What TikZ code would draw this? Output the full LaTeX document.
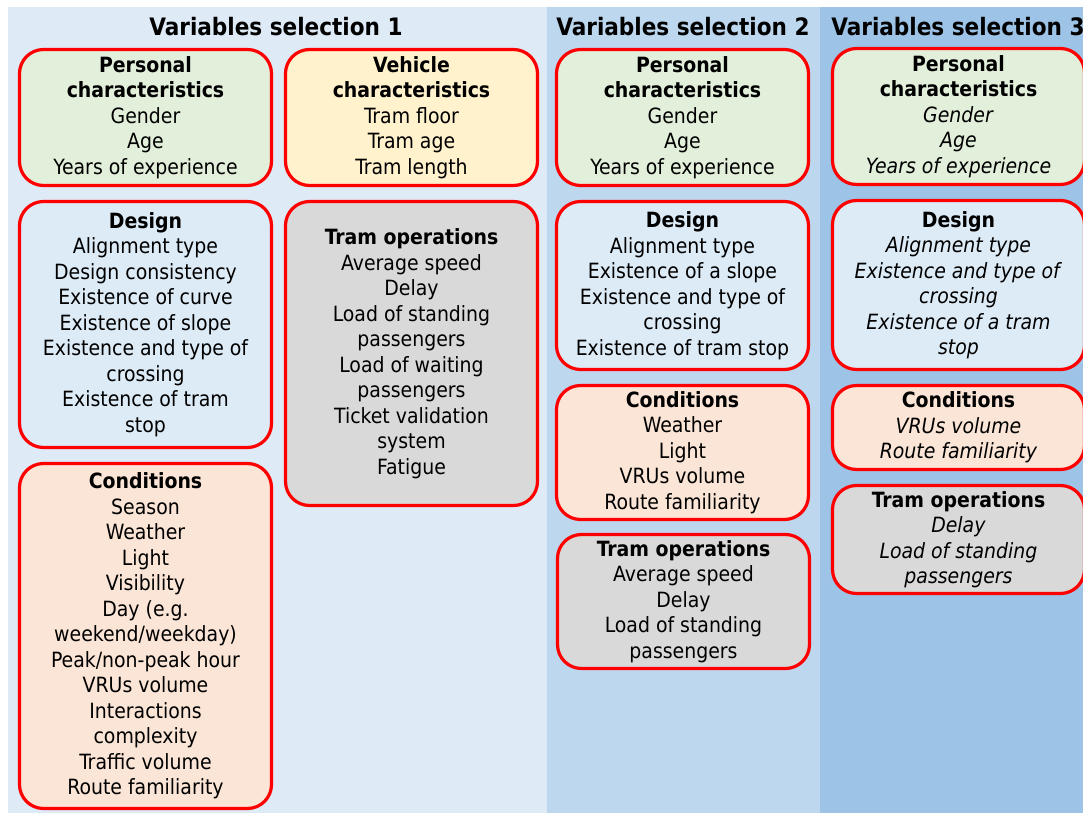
\documentclass[tikz,border=0pt]{standalone}
\usepackage{fontspec}
\setmainfont{DejaVu Sans Condensed}
\definecolor{colone}{HTML}{DEEAF6}
\definecolor{coltwo}{HTML}{BDD7EE}
\definecolor{colthree}{HTML}{9DC3E6}
\definecolor{persfill}{HTML}{E2EFDA}
\definecolor{vehfill}{HTML}{FFF2CC}
\definecolor{desfill}{HTML}{DDEBF7}
\definecolor{condfill}{HTML}{FBE5D6}
\definecolor{opsfill}{HTML}{D9D9D9}
\newcommand{\hd}[1]{\textbf{#1}}
\begin{document}
\begin{tikzpicture}[x=0.5pt,y=-0.5pt,
    varbox/.style={draw=red, line width=1.6pt, rounded corners=12pt, align=center,
      minimum width=126pt, inner sep=0pt, font=\fontsize{10.5}{12.75}\selectfont},
    coltitle/.style={font=\fontsize{12}{15}\selectfont\bfseries}]
    % Background
    \useasboundingbox (0,0) rectangle (1083,813);
    \clip (0,0) rectangle (1083,813);
    \fill[white] (0,0) rectangle (1083,813);
    \fill[colone] (8,7) rectangle (547,813);
    \fill[coltwo] (547,7) rectangle (820,813);
    \fill[colthree] (820,7) rectangle (1083,813);

    % Titles
    \node[coltitle] (title1) at (276,27) {Variables selection 1};
    \node[coltitle] (title2) at (683,27) {Variables selection 2};
    \node[coltitle] (title3) at (958,27) {Variables selection 3};

    % Selection 1
    \node[varbox, fill=persfill, minimum height=68pt] (pers1) at (145.5,117.5)
      {\hd{Personal}\\\hd{characteristics}\\Gender\\Age\\Years of experience};
    \node[varbox, fill=vehfill, minimum height=68pt] (veh1) at (411.5,117.5)
      {\hd{Vehicle}\\\hd{characteristics}\\Tram floor\\Tram age\\Tram length};
    \node[varbox, fill=desfill, minimum height=123pt] (des1) at (145.5,324.5)
      {\hd{Design}\\Alignment type\\Design consistency\\Existence of curve\\Existence of slope\\Existence and type of\\crossing\\Existence of tram\\stop};
    \node[varbox, fill=opsfill, minimum height=152pt] (ops1) at (411.5,353.5)
      {\hd{Tram operations}\\Average speed\\Delay\\Load of standing\\passengers\\Load of waiting\\passengers\\Ticket validation\\system\\Fatigue};
    \node[varbox, fill=condfill, minimum height=172.5pt] (cond1) at (145.5,636)
      {\hd{Conditions}\\Season\\Weather\\Light\\Visibility\\Day (e.g.\\weekend/weekday)\\Peak/non-peak hour\\VRUs volume\\Interactions\\complexity\\Traffic volume\\Route familiarity};

    % Selection 2
    \node[varbox, fill=persfill, minimum height=68pt] (pers2) at (682.5,117.5)
      {\hd{Personal}\\\hd{characteristics}\\Gender\\Age\\Years of experience};
    \node[varbox, fill=desfill, minimum height=84pt] (des2) at (682.5,285.5)
      {\hd{Design}\\Alignment type\\Existence of a slope\\Existence and type of\\crossing\\Existence of tram stop};
    \node[varbox, fill=condfill, minimum height=67pt] (cond2) at (682.5,452.5)
      {\hd{Conditions}\\Weather\\Light\\VRUs volume\\Route familiarity};
    \node[varbox, fill=opsfill, minimum height=67pt] (ops2) at (683.5,601.5)
      {\hd{Tram operations}\\Average speed\\Delay\\Load of standing\\passengers};

    % Selection 3
    \node[varbox, fill=persfill, minimum height=68pt] (pers3) at (958.5,116.5)
      {\hd{Personal}\\\hd{characteristics}\\\textit{Gender}\\\textit{Age}\\\textit{Years of experience}};
    \node[varbox, fill=desfill, minimum height=84.5pt] (des3) at (958.5,285)
      {\hd{Design}\\\textit{Alignment type}\\\textit{Existence and type of}\\\textit{crossing}\\\textit{Existence of a tram}\\\textit{stop}};
    \node[varbox, fill=condfill, minimum height=42pt] (cond3) at (958.5,427.5)
      {\hd{Conditions}\\\textit{VRUs volume}\\\textit{Route familiarity}};
    \node[varbox, fill=opsfill, minimum height=54pt] (ops3) at (958.5,539.5)
      {\hd{Tram operations}\\\textit{Delay}\\\textit{Load of standing}\\\textit{passengers}};
\end{tikzpicture}
\end{document}
